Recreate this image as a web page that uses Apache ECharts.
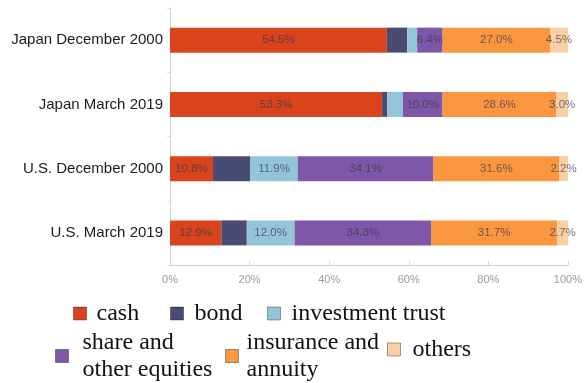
<!DOCTYPE html>
<html>
<head>
<meta charset="utf-8">
<script src="https://cdn.jsdelivr.net/npm/echarts@6/dist/echarts.min.js"></script>
<style>
  html, body { margin: 0; padding: 0; background: #fff; }
  #chart { width: 585px; height: 383px; }
</style>
</head>
<body>
<div id="chart"></div>
<script>
// Household financial assets composition (%), Japan vs U.S.
const categories = ['Japan December 2000', 'Japan March 2019', 'U.S. December 2000', 'U.S. March 2019'];
const seriesNames = ['cash', 'bond', 'investment trust', 'share and other equities', 'insurance and annuity', 'others'];
const legendText = ['cash', 'bond', 'investment trust', 'share and\nother equities', 'insurance and\nannuity', 'others'];
const cash      = [54.5, 53.3, 10.8, 12.9];
const bond      = [5.1, 1.3, 9.4, 6.4];
const trust     = [2.5, 3.9, 11.9, 12.0];
const shares    = [6.4, 10.0, 34.1, 34.3];
const insurance = [27.0, 28.6, 31.6, 31.7];
const others    = [4.5, 3.0, 2.2, 2.7];
const xTicks = [0, 20, 40, 60, 80, 100];

const values = [cash, bond, trust, shares, insurance, others];
const colors = ['#d9441d', '#4a4b73', '#93c5d9', '#7e57a8', '#f9963f', '#f9d0a5'];
// which segments carry a printed value
const showLabel = [
  [true, true, true, true],
  [false, false, false, false],
  [false, false, true, true],
  [true, true, true, true],
  [true, true, true, true],
  [true, true, true, true]
];

const chart = echarts.init(document.getElementById('chart'), null, { renderer: 'canvas' });

const series = seriesNames.map((name, i) => ({
  name: name,
  type: 'bar',
  stack: 'total',
  barWidth: 25,
  itemStyle: { color: colors[i] },
  data: values[i].map((v, j) => ({
    value: v,
    label: { show: showLabel[i][j] }
  })),
  label: {
    position: 'inside',
    formatter: p => p.value.toFixed(1) + '%',
    color: 'rgba(55,55,75,0.7)',
    fontFamily: 'Liberation Sans, Arial, sans-serif',
    fontSize: 11.5
  }
}));

// legend item placement: icon left, block top, gap between icon and text
const legendPos = [
  { left: 73, top: 300, gap: 5 },
  { left: 170, top: 300, gap: 6 },
  { left: 267, top: 300, gap: 6 },
  { left: 55, top: 329, gap: 9 },
  { left: 225, top: 329, gap: 3 },
  { left: 387, top: 336, gap: 7 }
];

const legends = seriesNames.map((name, i) => ({
  data: [name],
  left: legendPos[i].left,
  top: legendPos[i].top,
  padding: 0,
  orient: 'horizontal',
  icon: 'rect',
  itemWidth: 13,
  itemHeight: 13,
  selectedMode: false,
  itemStyle: { borderColor: 'rgba(0,0,0,0.35)', borderWidth: 1 },
  formatter: () => legendText[i],
  textStyle: {
    fontFamily: 'Liberation Serif, Times New Roman, serif',
    fontSize: 24,
    lineHeight: 27,
    color: '#111',
    padding: [0, 0, 0, legendPos[i].gap]
  }
}));

chart.setOption({
  animation: false,
  grid: { left: 170, right: 14, top: 8, bottom: 118, containLabel: false },
  legend: legends,
  xAxis: {
    type: 'value',
    min: xTicks[0],
    max: xTicks[xTicks.length - 1],
    interval: 20,
    axisLine: { show: true, lineStyle: { color: '#cfcfcf' } },
    axisTick: { show: true, inside: true, length: 4, lineStyle: { color: '#d6d6d6' } },
    splitLine: { show: false },
    axisLabel: {
      formatter: v => v + '%',
      color: '#999',
      fontSize: 11,
      fontFamily: 'Liberation Sans, Arial, sans-serif',
      margin: 9
    }
  },
  yAxis: {
    type: 'category',
    data: categories,
    inverse: true,
    axisLine: { show: true, lineStyle: { color: '#d6d6d6' } },
    axisTick: { show: true, length: 3, lineStyle: { color: '#e0e0e0' } },
    axisLabel: {
      color: '#1a1a1a',
      fontSize: 15,
      fontFamily: 'Liberation Sans, Arial, sans-serif',
      margin: 7
    }
  },
  series: series
});
</script>
</body>
</html>
